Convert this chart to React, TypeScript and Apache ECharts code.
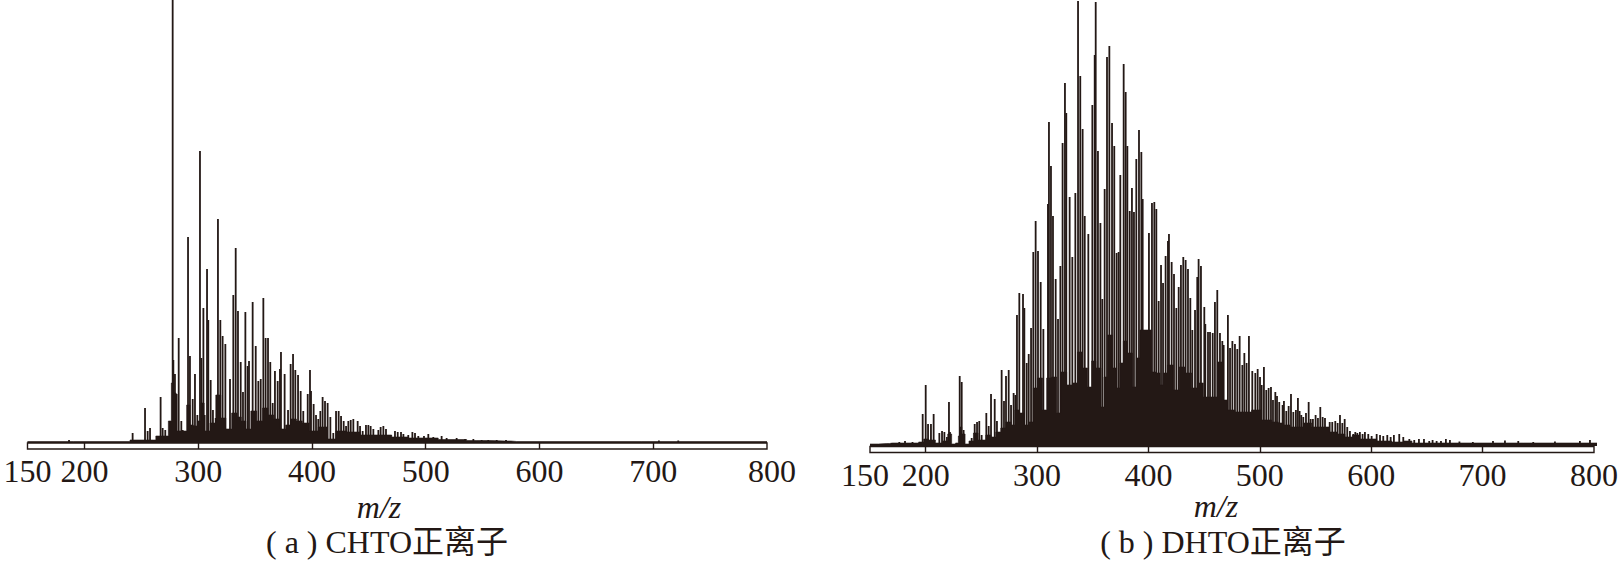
import React, { useEffect, useRef } from "react";
import * as echarts from "echarts";

const INK = "#231815";
const SERIF = '"Liberation Serif","Noto Sans CJK SC",serif';

const labelTicks = [150, 200, 300, 400, 500, 600, 700, 800];
const innerTicks = [200, 300, 400, 500, 600, 700];

// Panel (a) CHTO: tall peaks [m/z, intensity]
const peaksA = [
  [186.5,3],[242.4,10],[253.3,35],[255.6,12],[257.7,15],[267,46],[268.8,15],[271.1,13],[277.6,445],[278.2,83],[279.6,69],
  [281.1,49],[282.9,105],[285.2,22],[286.4,13],[291.1,206],[292.8,87],[295.2,44],[297.2,69],[299.3,28],[301.6,292],[302.8,85],
  [304.6,135],[305.7,28],[307.8,174],[308.9,123],[311,63],[313,33],[315.4,25],[317.4,224],[319.5,123],[321.5,107],[323.9,99],
  [328,64],[330.9,148],[333,195],[335,132],[337.4,81],[339.4,51],[341.5,131],[343.5,77],[344.7,82],[347.9,141],[350.6,97],
  [352.9,62],[355,64],[357.3,145],[359.3,105],[361.4,105],[363.4,81],[365.5,40],[367.5,72],[369.9,62],[371.9,74],[372.8,91],
  [376,69],[379,33],[381.3,79],[383.4,89],[385.4,73],[387.8,68],[390.1,52],[392.4,32],[396.3,49],[398.3,73],[399.2,52],
  [401.5,39],[403.6,28],[405.6,24],[407.4,32],[409.4,46],[411.5,42],[413.8,40],[416.2,26],[418.8,10],[421.2,32],[423.5,32],
  [425.6,27],[427.9,22],[430,17],[432,22],[434.1,23],[436.4,24],[440.2,22],[442.3,17],[444.6,12],[447.5,18],[449.6,18],
  [451.6,17],[454,14],[458.4,13],[460.4,16],[462.8,17],[465.1,14],[469.2,8],[473,12],[475.4,11],[478.3,11],[480.4,9],
  [484.7,8],[488.3,11],[490.6,10],[493.5,7],[498.5,7],[502.3,9],[506.7,6],[514,7],[518.4,5],[527.2,5],[534.6,4],[541.9,4],
  [549.2,3],[555,3],[562.4,3],[570.6,3],[705,2.5],[722,2.5],
];

// Panel (a): dark filled envelope under the peaks
const floorA = [
  [150,1.5],[231.3,1.5],[248.9,3],[260.6,3],[265,7],[272.3,7],[275.3,22],[277.6,60],[279.6,50],[281.7,12],[288.4,12],[291.4,38],
  [294.3,18],[297.2,17],[301.6,22],[303,40],[307.5,12],[313.3,20],[317.7,48],[322.1,25],[326.5,14],[332.4,30],[336,26],[339.7,22],
  [344.1,14],[348.5,32],[354.4,22],[358.8,35],[364,28],[369,24],[374.9,14],[379,18],[383.7,24],[389,22],[393.9,20],[401.2,12],[410,16],[417.4,4],
  [424.7,12],[436.4,11],[448.1,8],[465.7,8],[474.5,6],[495,5],[527,3.5],[545,2.5],[570,2],[580,1.5],[800,1.5],
];

// Panel (a): thin white gaps cutting the envelope [m/z, gap floor]
const slitsA = [
  [284,1],[300.3,1],[306.6,1],[314.2,1],[325.6,1],[346,1],[376,1],[401.2,1],[418.2,1],[437.9,2],
];

// Panel (b) DHTO: tall peaks
const peaksB = [
  [169.4,3],[176.2,4],[181.3,5],[188,4],[197.1,32],[199.8,61],[201.9,22],[204.5,22],[206.9,32],[212,13],[214.4,15],[216.5,14],
  [218.8,9],[220.6,44],[221.5,14],[230.2,70],[232,64],[233.7,16],[240.9,8],[243.6,22],[245.7,24],[247.7,25],[249.8,11],
  [254,33],[256.1,20],[258.2,52],[261.5,47],[263.5,25],[267.7,76],[269.8,45],[271.6,70],[274,76],[276.1,41],[278.4,53],[280,51],
  [281.4,131],[283.5,153],[286.8,152],[288,138],[290.1,83],[291.9,92],[294,118],[296,194],[298.1,225],[300.2,195],[302.6,164],
  [305,117],[309.1,242],[310,324],[311.8,280],[313.6,230],[316,167],[318.1,127],[320.2,180],[322.2,303],[324.3,363],[325.5,333],
  [328.5,249],[330.9,189],[333.6,253],[336,445],[338,370],[340.1,317],[342,230],[345.2,212],[348.8,341],[350.9,391],[351.8,444],
  [353.8,295],[356,223],[357.7,147],[359.8,257],[361.9,389],[364,400],[366.4,323],[368.4,300],[370.5,193],[372.3,194],[373.8,271],
  [376.8,382],[378.6,354],[380.1,300],[382.2,235],[384.2,258],[386,234],[388.1,287],[390.5,316],[392.6,294],[393.8,247],[399.4,213],
  [402.1,243],[404.2,244],[406,237],[408.1,145],[410.2,181],[412,163],[414.3,190],[416.4,205],[417.3,212],[419.7,184],[421.8,172],
  [423.9,138],[426,159],[428,181],[430.1,189],[432.2,186],[434.3,177],[436.4,148],[438.2,116],[440.6,136],[442.6,169],[443.8,187],
  [445.9,180],[448.9,139],[449.8,122],[452.2,114],[454,114],[456.4,113],[458.4,144],[460.5,156],[462.9,113],[465,105],[466.2,101],
  [470,131],[471.9,98],[474,105],[476.3,102],[478.4,97],[480.5,110],[482.9,81],[484.7,93],[486.7,83],[488.8,110],[491.8,75],
  [494.5,73],[496.6,77],[498.7,69],[500.2,61],[502.2,79],[504.3,56],[506.4,58],[508.5,59],[510.3,46],[512.4,54],[513.9,50],
  [515.9,44],[518.9,41],[520.1,45],[522.2,35],[524.3,40],[526.4,52],[528.5,34],[530.8,36],[532.6,48],[534.1,35],[535.6,31],
  [537.4,29],[539.8,33],[542.2,44],[544,27],[546,27],[548.4,31],[550.5,28],[552.6,39],[554.7,29],[556.8,28],[561,24],[563.3,24],
  [566,25],[568.1,23],[570.2,31],[572.3,23],[574.4,27],[576.7,19],[579.1,15],[582.1,12],[583.9,14],[585.7,13],[588,14],[590.4,12],
  [592.5,14],[595.5,12],[598.5,10],[603,12],[606,11],[608.9,10],[612.5,11],[615.5,9],[618.4,11],[623.2,12],[626.8,9],[632.2,7],
  [636.6,6],[640.8,7],[645.3,7],[650,5],[653,6],[656.6,5],[660.5,5],[664.9,7],[668.5,6],[677,4.5],[689,4],[707,5],[717.7,5.5],
  [729.6,5],[743,4],[762.4,4.5],[784.7,5],[793.7,6],
];

// Panel (b): dark filled envelope
const floorB = [
  [150,2],[165,2.5],[170,3],[190,3],[197,4],[199,7],[205,6],[212,3],[218,5],[221,12],[225,2],[228,3],[230,10],[231,19],[233,12],
  [237,2],[240,5],[245,13],[248.3,6],[251.3,6],[255.8,11],[260.3,9],[264.7,14],[269.2,18],[273.7,24],[278.1,21],[281.1,36],[285.6,33],
  [290,21],[294.5,24],[297.5,58],[302,68],[306.5,36],[309.4,68],[315.4,69],[318.4,33],[322.9,74],[328.8,61],[333.3,63],[337.7,94],
  [342.2,78],[346.7,59],[349.7,85],[354.1,78],[358.6,39],[360.1,69],[364.6,111],[369,78],[372,58],[375,83],[378,105],[382.4,93],
  [386.9,59],[389.9,88],[392.9,116],[400.3,116],[403.3,74],[407.8,73],[410.8,61],[413.7,73],[418.2,81],[424.2,56],[428.6,79],
  [434.6,73],[440.6,58],[445,63],[451,49],[457,49],[464.4,84],[467.4,46],[471.9,36],[480.8,34],[486.7,34],[495.7,36],[504.6,26],
  [513.6,24],[516.5,23],[522.5,21],[528.5,19],[534.4,19],[540.4,23],[549.3,19],[556.8,19],[564,14],[571.7,12],[577.6,9],[585,11],
  [591,7],[597,7],[609,5],[624,4],[630,5],[639,3],[668,3],[800,3],
];

// Panel (b): white gaps
const slitsB = [
  [284.8,1],[307.4,1],[326.7,1],[346.6,1],[357.3,29],[375.7,1],[396.7,3],[398.4,1],[418.9,1],[419.9,16],[467.5,1],[487.7,2],
  [517.3,3],[543.4,11],[552.3,12],[559.8,4],
];

const renderSlit = (topValue: number) => (_: any, api: any) => {
  const low = api.coord([api.value(0), api.value(1)]);
  const high = api.coord([api.value(0), topValue]);
  return {
    type: "rect",
    shape: { x: low[0] - 0.65, y: high[1], width: 1.3, height: low[1] - high[1] },
    style: { fill: "#ffffff" },
  };
};

const axisFont = { fontFamily: SERIF, fontSize: 32, color: "#231815" };

function panelAxes(index: number) {
  const shifted = index === 0 ? { 800: "r" } : { 150: "l" };
  return {
    labelFormatter: (v: number) => {
      const k = (shifted as any)[v];
      return k ? `{${k}|${v}}` : `${v}`;
    },
  };
}

function frameAxis(index: number) {
  const { labelFormatter } = panelAxes(index);
  return {
    type: "value",
    gridIndex: index * 2 + 1,
    min: 150,
    max: 800,
    axisLine: { show: false },
    splitLine: { show: false },
    axisTick: { show: true, inside: true, length: 6, customValues: innerTicks, lineStyle: { color: INK, width: 1.4 } },
    axisLabel: {
      ...axisFont,
      margin: 6,
      customValues: labelTicks,
      hideOverlap: false,
      showMinLabel: true,
      showMaxLabel: true,
      formatter: labelFormatter,
      rich: {
        r: { ...axisFont, padding: [0, 0, 0, 10] },
        l: { ...axisFont, padding: [0, 10, 0, 0] },
      },
    },
  };
}

function caption(text: string, x: number, y: number, italic = false) {
  return {
    text,
    left: x,
    top: y,
    textAlign: "center",
    padding: 0,
    textStyle: { fontFamily: SERIF, fontSize: 32, fontWeight: "normal", fontStyle: italic ? "italic" : "normal", color: "#231815" },
  };
}

export default function App() {
  const ref = useRef<HTMLDivElement>(null);
  useEffect(() => {
    const chart = echarts.init(ref.current!, null, { renderer: "svg" });
    const hiddenX = (g: number) => ({ type: "value", gridIndex: g, min: 150, max: 800, show: false });
    const hiddenY = (g: number, max: number) => ({ type: "value", gridIndex: g, min: 0, max, show: false });
    const frame = { show: true, borderColor: INK, borderWidth: 1.4, backgroundColor: "#fff" };
    chart.setOption({
      animation: false,
      backgroundColor: "#fff",
      title: [
        caption("m/z", 379, 491, true),
        caption("m/z", 1216, 490, true),
        caption("( a ) CHTO正离子", 387, 526),
        caption("( b ) DHTO正离子", 1223, 526),
      ],
      grid: [
        { left: 27.5, width: 739.5, top: 0, height: 443 },
        { left: 27.5, width: 739.5, top: 443, height: 6, ...frame },
        { left: 870, width: 727, top: 0, height: 446 },
        { left: 870, width: 727, top: 446.5, height: 6, ...frame },
      ],
      xAxis: [hiddenX(0), frameAxis(0), hiddenX(2), frameAxis(1)],
      yAxis: [hiddenY(0, 443), hiddenY(1, 1), hiddenY(2, 446), hiddenY(3, 1)],
      series: [
        { type: "line", step: "middle", xAxisIndex: 0, yAxisIndex: 0, data: floorA, showSymbol: false, lineStyle: { width: 0.6, color: INK }, areaStyle: { color: INK, opacity: 1 } },
        { type: "custom", xAxisIndex: 0, yAxisIndex: 0, data: slitsA, renderItem: renderSlit(70) },
        { type: "bar", xAxisIndex: 0, yAxisIndex: 0, data: peaksA, barWidth: 1.8, itemStyle: { color: INK } },
        { type: "line", step: "middle", xAxisIndex: 2, yAxisIndex: 2, data: floorB, showSymbol: false, lineStyle: { width: 0.6, color: INK }, areaStyle: { color: INK, opacity: 1 } },
        { type: "custom", xAxisIndex: 2, yAxisIndex: 2, data: slitsB, renderItem: renderSlit(125) },
        { type: "bar", xAxisIndex: 2, yAxisIndex: 2, data: peaksB, barWidth: 1.8, itemStyle: { color: INK } },
      ],
    });
    return () => chart.dispose();
  }, []);
  return <div ref={ref} style={{ position: "absolute", left: 0, top: 0, width: 1621, height: 562 }} />;
}
